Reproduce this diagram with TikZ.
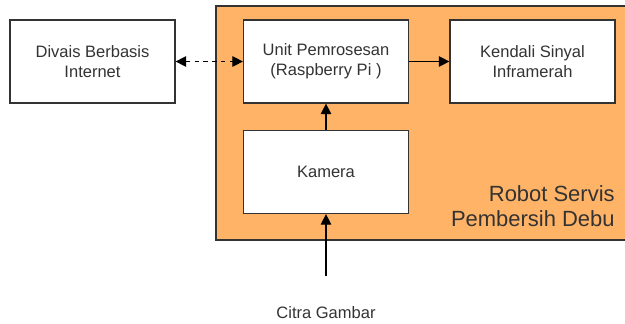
\documentclass[tikz,border=0pt]{standalone}
\usepackage{fontspec}
\setmainfont{Liberation Sans}
\usetikzlibrary{arrows.meta,positioning}
\definecolor{Robot}{HTML}{FFB366}
\definecolor{Edge}{HTML}{333333}
\tikzset{
  unitbox/.style={draw=Edge,fill=white,line width=.7pt,minimum width=3.3cm,minimum height=1.66cm,align=center,text=Edge,font=\fontsize{9.4}{11.3}\selectfont},
  flow/.style={-{Triangle[length=6pt,width=6pt]},line width=.7pt}
}
\begin{document}
\begin{tikzpicture}
\useasboundingbox (0,0) rectangle (12.5,6.46);
\draw[fill=Robot,draw=Edge,line width=.7pt] (4.32,1.66) rectangle (12.7,6.34);
\node[unitbox] (divais) at (1.85,5.23) {Divais Berbasis\\Internet};
\node[unitbox] (unit) at (6.52,5.23) {Unit Pemrosesan\\(Raspberry Pi )};
\node[unitbox] (kendali) at (10.65,5.23) {Kendali Sinyal\\Inframerah};
\node[unitbox] (kamera) at (6.52,3.02) {Kamera};
\node[anchor=east,align=right,text=Edge,inner xsep=0pt,font=\fontsize{12.5}{14.2}\selectfont] (robot) at (12.3,2.33) {Robot Servis\\Pembersih Debu};
\coordinate (citra) at (6.52,0.94);
\node[text=Edge,font=\fontsize{9.4}{11.3}\selectfont] (citralbl) at (6.52,0.2) {Citra Gambar};
\draw[flow,{Triangle[length=6pt,width=6pt]}-{Triangle[length=6pt,width=6pt]},dash pattern=on 2.5pt off 2.5pt] (divais) -- (unit);
\draw[flow] (unit) -- (kendali);
\draw[flow] (kamera) -- (unit);
\draw[flow] (citra) -- (kamera);
\end{tikzpicture}
\end{document}
